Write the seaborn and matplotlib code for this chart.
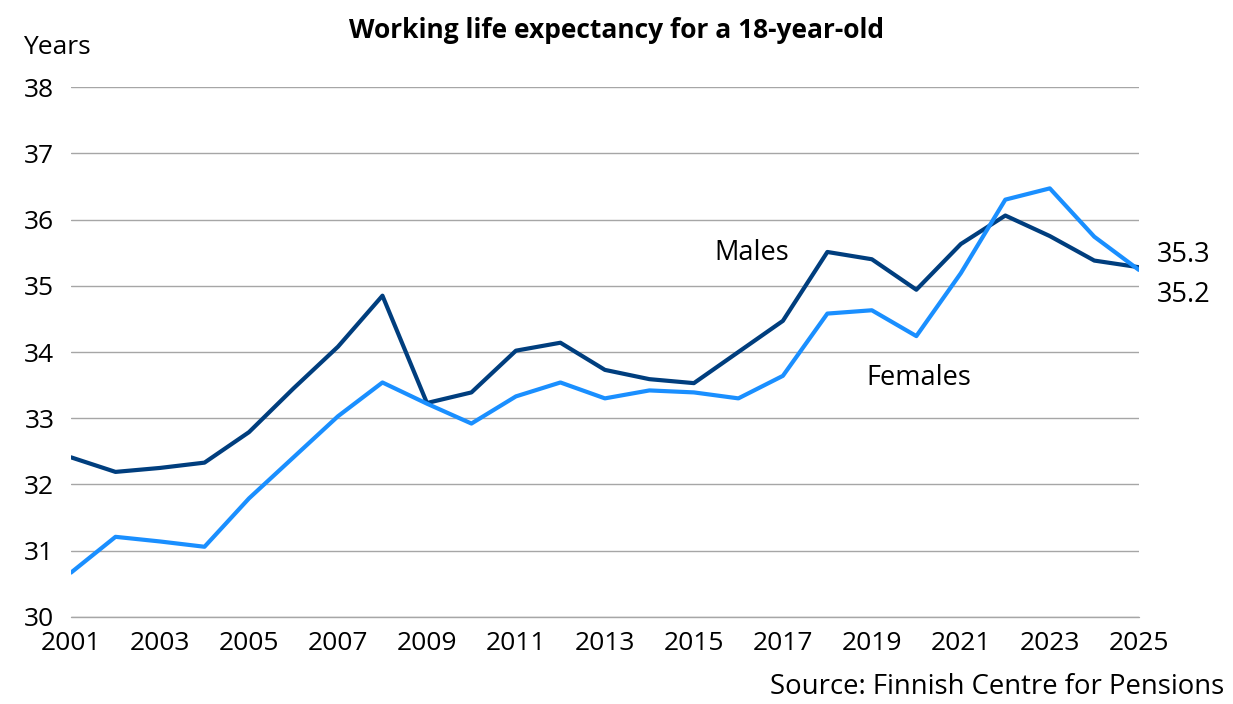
import pandas as pd
import seaborn as sns
import matplotlib.pyplot as plt

# Data
years = list(range(2001, 2026))
males = [32.41, 32.19, 32.25, 32.33, 32.79, 33.45, 34.08, 34.85, 33.23, 33.39,
         34.02, 34.14, 33.73, 33.59, 33.53, 34.00, 34.47, 35.51, 35.40, 34.94,
         35.63, 36.06, 35.75, 35.38, 35.28]
females = [30.67, 31.21, 31.14, 31.06, 31.79, 32.41, 33.03, 33.54, 33.22, 32.92,
           33.33, 33.54, 33.30, 33.42, 33.39, 33.30, 33.64, 34.58, 34.63, 34.24,
           35.19, 36.30, 36.47, 35.74, 35.24]
end_labels = {"Males": "35.3", "Females": "35.2"}

df = pd.DataFrame({"year": years * 2,
                   "value": males + females,
                   "sex": ["Males"] * len(years) + ["Females"] * len(years)})

sns.set_theme(style="white")
plt.rcParams["font.family"] = ["Open Sans", "DejaVu Sans"]
plt.rcParams["text.color"] = "black"

fig = plt.figure(figsize=(12.33, 7.04), dpi=100)
ax = fig.add_axes([0.0576, 0.1236, 0.866, 0.7528])

palette = {"Males": "#003e7e", "Females": "#1a8fff"}
sns.lineplot(data=df, x="year", y="value", hue="sex", palette=palette,
             linewidth=3, legend=False, ax=ax, zorder=3)

ax.set_xlim(2001, 2025)
ax.set_ylim(30, 38)
ax.set_xticks(range(2001, 2026, 2))
ax.set_yticks(range(30, 39))
ax.grid(axis="y", color="#a6a6a6", linewidth=1)
ax.axhline(30, color="#a6a6a6", linewidth=1, clip_on=False, zorder=1)
ax.set_axisbelow(True)
for s in ax.spines.values():
    s.set_visible(False)
ax.tick_params(axis="both", length=0, labelsize=19, colors="black")
ax.tick_params(axis="y", pad=12)
ax.tick_params(axis="x", pad=10)
ax.set_xlabel("")
ax.set_ylabel("")

# annotations
ax.text(2016.3, 35.5, "Males", fontsize=19.5, ha="center", va="center")
ax.text(2020.06, 33.6, "Females", fontsize=19.5, ha="center", va="center")
ax.text(1.017, 35.47, end_labels["Males"], transform=ax.get_yaxis_transform(),
        fontsize=19.5, ha="left", va="center")
ax.text(1.017, 34.86, end_labels["Females"], transform=ax.get_yaxis_transform(),
        fontsize=19.5, ha="left", va="center")

fig.text(0.5004, 0.957, "Working life expectancy for a 18-year-old",
         fontsize=19, fontweight="bold", ha="center", va="center")
fig.text(0.019, 0.933, "Years", fontsize=19, ha="left", va="center")
fig.text(0.993, 0.024, "Source: Finnish Centre for Pensions", fontsize=19.8,
         ha="right", va="center")

fig.savefig("out.png", dpi=100)
